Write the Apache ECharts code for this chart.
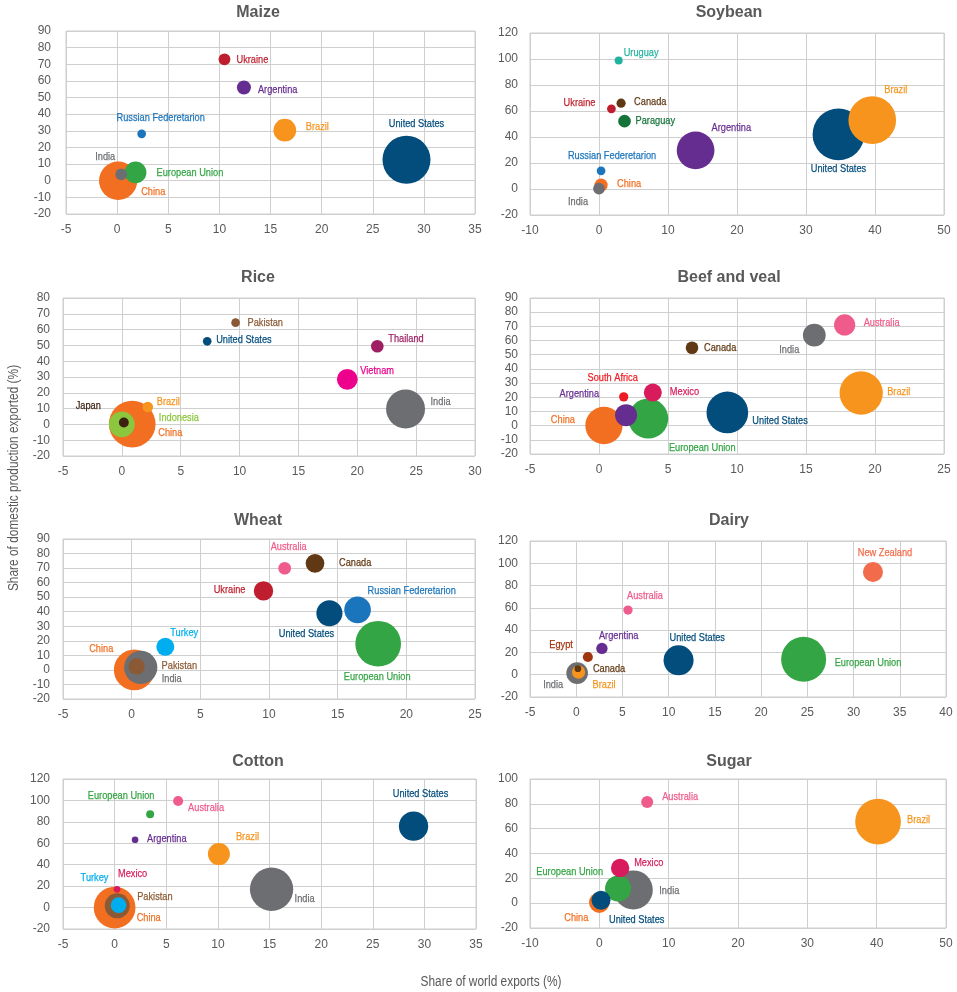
<!DOCTYPE html>
<html>
<head>
<meta charset="utf-8">
<script src="https://cdn.jsdelivr.net/npm/echarts@6/dist/echarts.min.js"></script>
<style>
  html, body { margin: 0; padding: 0; background: #ffffff; }
  #chart { width: 957px; height: 992px; }
</style>
</head>
<body>
<div id="chart"></div>
<script>
// Share of world exports (x, %), share of domestic production exported (y, %)
// and share of world production (bubble size, %) by commodity.

const maizeCountries  = ['United States', 'China', 'Brazil', 'European Union', 'Argentina', 'Ukraine', 'India', 'Russian Federetarion'];
const maizeExport     = [28.3, 0.1, 16.4, 1.8, 12.4, 10.5, 0.4, 2.4];
const maizeDomestic   = [12.6, 0, 30.4, 5, 56, 73, 3.8, 28.2];
const maizeProduction = [35, 22.3, 7.8, 7.2, 3.0, 2.1, 2.1, 1.15];

const soyCountries  = ['United States', 'Brazil', 'Argentina', 'China', 'Paraguay', 'India', 'Canada', 'Ukraine', 'Russian Federetarion', 'Uruguay'];
const soyExport     = [34.7, 39.6, 14.0, 0.3, 3.7, 0, 3.2, 1.8, 0.3, 2.85];
const soyDomestic   = [42, 53, 29.7, 3, 52.2, 0.3, 66, 61.7, 14, 98.8];
const soyProduction = [35, 29.8, 18.6, 2.3, 2.1, 1.8, 1.1, 1.0, 1.0, 0.84];

const riceCountries  = ['China', 'India', 'Indonesia', 'Vietnam', 'Thailand', 'Brazil', 'Japan', 'Pakistan', 'United States'];
const riceExport     = [0.88, 24.1, 0, 19.15, 21.7, 2.2, 0.17, 9.66, 7.25];
const riceDomestic   = [0.2, 9.8, 0, 28.5, 49.5, 11, 1.2, 64.4, 52.6];
const riceProduction = [29, 20.2, 8.8, 5.7, 2.1, 1.5, 1.3, 1.0, 1.0];

const beefCountries  = ['Brazil', 'United States', 'European Union', 'China', 'India', 'Argentina', 'Australia', 'Mexico', 'Canada', 'South Africa'];
const beefExport     = [19.0, 9.3, 3.57, 0.36, 15.6, 1.96, 17.8, 3.9, 6.74, 1.79];
const beefDomestic   = [23, 9.3, 5, 0.1, 63.8, 7.4, 71, 23.3, 54.9, 20.3];
const beefProduction = [19.95, 18.5, 17.0, 14.8, 5.5, 5.15, 4.8, 3.45, 1.7, 0.92];

const wheatCountries  = ['European Union', 'China', 'India', 'Russian Federetarion', 'United States', 'Ukraine', 'Canada', 'Turkey', 'Pakistan', 'Australia'];
const wheatExport     = [17.95, 0.19, 0.66, 16.45, 14.4, 9.6, 13.35, 2.45, 0.36, 11.14];
const wheatDomestic   = [18, 0, 1.7, 41.3, 39, 54.3, 73.3, 15.9, 2.4, 69.9];
const wheatProduction = [20, 15.9, 10.6, 6.8, 6.5, 3.6, 3.35, 3.1, 2.55, 1.55];

const dairyCountries  = ['European Union', 'United States', 'India', 'New Zealand', 'Brazil', 'Argentina', 'Egypt', 'Australia', 'Canada'];
const dairyExport     = [24.6, 11.07, 0.1, 32.1, 0.25, 2.78, 1.26, 5.6, 0.18];
const dairyDomestic   = [13.8, 12.9, 1.5, 92.2, 2.4, 23.6, 15.9, 58, 5.4];
const dairyProduction = [22, 9.8, 5.1, 4.35, 1.9, 1.4, 1.1, 0.94, 0.49];

const cottonCountries  = ['India', 'China', 'United States', 'Pakistan', 'Brazil', 'Turkey', 'Australia', 'European Union', 'Mexico', 'Argentina'];
const cottonExport     = [15.2, 0, 28.95, 0.25, 10.1, 0.38, 6.15, 3.44, 0.23, 1.98];
const cottonDomestic   = [17.1, 0, 76, 1.6, 49.9, 2.2, 99.5, 87, 17.1, 63.3];
const cottonProduction = [24, 22.3, 11, 8, 6.2, 3.15, 1.3, 0.82, 0.57, 0.57];

const sugarCountries  = ['Brazil', 'India', 'European Union', 'China', 'United States', 'Mexico', 'Australia'];
const sugarExport     = [40.2, 4.9, 2.7, 0, 0.24, 3.0, 6.9];
const sugarDomestic   = [65.6, 10.7, 11.8, 0.5, 2.3, 28.4, 81.4];
const sugarProduction = [21, 15.3, 6.8, 4.3, 3.6, 3.4, 1.45];

const axisTitleX = 'Share of world exports (%)';
const axisTitleY = 'Share of domestic production exported (%)';

// ---- styling ---------------------------------------------------------------

const countryColor = {
  'United States': '#034d7d',
  'Brazil': '#f7941d',
  'China': '#f26f22',
  'India': '#6d6e71',
  'European Union': '#34a544',
  'Argentina': '#662d91',
  'Ukraine': '#be1e2d',
  'Russian Federetarion': '#1b75bc',
  'Uruguay': '#22b2a0',
  'Canada': '#603813',
  'Paraguay': '#16743a',
  'Pakistan': '#8b5a35',
  'Thailand': '#9e1f63',
  'Vietnam': '#ec008c',
  'Japan': '#3b1f10',
  'Indonesia': '#8cc63f',
  'Australia': '#ef5b8a',
  'South Africa': '#ed1c24',
  'Mexico': '#d71b5c',
  'Turkey': '#00aeef',
  'New Zealand': '#f26b4a',
  'Egypt': '#a1350f'
};

const TEXT = '#595959';
const GRID_LINE = '#cfcfcf';
const SANS = "'Liberation Sans', Arial, sans-serif";
const LABEL_FONT = '11.7px ' + SANS;
const LABEL_SQUEEZE = 0.79;     // condensed look for the country labels
const AXIS_NAME_FONT = '14px ' + SANS;
const AXIS_NAME_SQUEEZE = 0.85;

// label anchor offsets from each bubble centre: [dx, dy, align]
const labelPlacement = {
  Maize: {
    'Ukraine': [12, 0, 'left'], 'Argentina': [14, 2, 'left'], 'Russian Federetarion': [19, -16, 'center'],
    'Brazil': [21, -3, 'left'], 'United States': [10, -36, 'center'], 'India': [-16, -18, 'center'],
    'European Union': [21, 0, 'left'], 'China': [23, 11, 'left']
  },
  Soybean: {
    'Uruguay': [5, -8, 'left'], 'Canada': [13, -1, 'left'], 'Ukraine': [-16, -6, 'right'],
    'Paraguay': [11, 0, 'left'], 'Argentina': [16, -23, 'left'], 'United States': [0, 34, 'center'],
    'Brazil': [12, -30, 'left'], 'Russian Federetarion': [11, -15, 'center'], 'China': [16, -1, 'left'],
    'India': [-21, 13, 'center']
  },
  Rice: {
    'Pakistan': [12, 0, 'left'], 'United States': [9, -2, 'left'], 'Thailand': [11, -7, 'left'],
    'Vietnam': [13, -9, 'left'], 'India': [25, -7, 'left'], 'Brazil': [9, -5, 'left'],
    'Indonesia': [37, -7, 'left'], 'China': [26, 9, 'left'], 'Japan': [-23, -17, 'right']
  },
  'Beef and veal': {
    'Australia': [19, -2, 'left'], 'India': [-25, 15, 'center'], 'Canada': [12, 0, 'left'],
    'South Africa': [-11, -19, 'center'], 'Mexico': [17, -1, 'left'], 'Argentina': [-27, -21, 'right'],
    'European Union': [54, 29, 'center'], 'China': [-29, -6, 'right'], 'United States': [25, 8, 'left'],
    'Brazil': [26, -1, 'left']
  },
  Wheat: {
    'Australia': [4, -21, 'center'], 'Canada': [24, -1, 'left'], 'Ukraine': [-18, -1, 'right'],
    'Russian Federetarion': [10, -19, 'left'], 'United States': [-23, 21, 'center'],
    'European Union': [-1, 33, 'center'], 'Turkey': [5, -14, 'left'], 'China': [-21, -21, 'right'],
    'Pakistan': [25, -1, 'left'], 'India': [21, 11, 'left']
  },
  Dairy: {
    'New Zealand': [12, -19, 'center'], 'Australia': [-1, -14, 'left'], 'Argentina': [-3, -13, 'left'],
    'Egypt': [-15, -12, 'right'], 'United States': [-9, -23, 'left'], 'European Union': [31, 3, 'left'],
    'Canada': [15, 0, 'left'], 'India': [-14, 12, 'right'], 'Brazil': [14, 13, 'left']
  },
  Cotton: {
    'European Union': [-29, -19, 'center'], 'Australia': [10, 7, 'left'], 'Argentina': [12, -1, 'left'],
    'Brazil': [17, -17, 'left'], 'United States': [7, -32, 'center'], 'India': [23, 10, 'left'],
    'Mexico': [1, -15, 'left'], 'Turkey': [-24, -27, 'center'], 'Pakistan': [20, -9, 'left'],
    'China': [22, 10, 'left']
  },
  Sugar: {
    'Australia': [15, -5, 'left'], 'Brazil': [29, -2, 'left'], 'Mexico': [14, -5, 'left'],
    'European Union': [-15, -17, 'right'], 'India': [26, 1, 'left'], 'China': [-11, 15, 'right'],
    'United States': [8, 19, 'left']
  }
};

// panel geometry and axis scales
const panels = [
  { title: 'Maize', names: maizeCountries, xs: maizeExport, ys: maizeDomestic, sizes: maizeProduction,
    grid: [66, 31, 409, 183], titleAt: [258, 13], x: [-5, 35, 5], y: [-20, 90, 10], maxBubble: 48, yMargin: 15 },
  { title: 'Soybean', names: soyCountries, xs: soyExport, ys: soyDomestic, sizes: soyProduction,
    grid: [530, 33, 414, 182], titleAt: [729, 13], x: [-10, 50, 10], y: [-20, 120, 20], maxBubble: 51.7, yMargin: 12 },
  { title: 'Rice', names: riceCountries, xs: riceExport, ys: riceDomestic, sizes: riceProduction,
    grid: [63, 298, 412, 158], titleAt: [258, 278], x: [-5, 30, 5], y: [-20, 80, 10], maxBubble: 46.7, yMargin: 13 },
  { title: 'Beef and veal', names: beefCountries, xs: beefExport, ys: beefDomestic, sizes: beefProduction,
    grid: [530, 298, 414, 156], titleAt: [729, 278], x: [-5, 25, 5], y: [-20, 90, 10], maxBubble: 43.3, yMargin: 12 },
  { title: 'Wheat', names: wheatCountries, xs: wheatExport, ys: wheatDomestic, sizes: wheatProduction,
    grid: [63, 539, 412, 160], titleAt: [258, 521], x: [-5, 25, 5], y: [-20, 90, 10], maxBubble: 45.7, yMargin: 13 },
  { title: 'Dairy', names: dairyCountries, xs: dairyExport, ys: dairyDomestic, sizes: dairyProduction,
    grid: [530, 541, 416, 156], titleAt: [729, 521], x: [-5, 40, 5], y: [-20, 120, 20], maxBubble: 45, yMargin: 12 },
  { title: 'Cotton', names: cottonCountries, xs: cottonExport, ys: cottonDomestic, sizes: cottonProduction,
    grid: [63, 779, 413, 150], titleAt: [258, 762], x: [-5, 35, 5], y: [-20, 120, 20], maxBubble: 43.3, yMargin: 13 },
  { title: 'Sugar', names: sugarCountries, xs: sugarExport, ys: sugarDomestic, sizes: sugarProduction,
    grid: [530, 779, 416, 149], titleAt: [729, 762], x: [-10, 50, 10], y: [-20, 100, 20], maxBubble: 45.7, yMargin: 12 }
];

// ---- option ----------------------------------------------------------------

const grids = [], xAxes = [], yAxes = [], series = [], graphics = [];

panels.forEach((p, i) => {
  const [left, top, width, height] = p.grid;
  grids.push({ left, top, width, height, show: true, borderColor: GRID_LINE, borderWidth: 1, backgroundColor: 'transparent' });

  const axisCommon = {
    axisLine: { show: false },
    axisTick: { show: false },
    splitLine: { show: true, lineStyle: { color: GRID_LINE, width: 1 } },
    axisLabel: { color: TEXT, fontSize: 12, fontFamily: SANS }
  };
  xAxes.push(Object.assign({}, axisCommon, {
    type: 'value', gridIndex: i, min: p.x[0], max: p.x[1], interval: p.x[2],
    axisLabel: Object.assign({}, axisCommon.axisLabel, { margin: 10 })
  }));
  yAxes.push(Object.assign({}, axisCommon, {
    type: 'value', gridIndex: i, min: p.y[0], max: p.y[1], interval: p.y[2],
    axisLabel: Object.assign({}, axisCommon.axisLabel, { margin: p.yMargin })
  }));

  const maxSize = Math.max.apply(null, p.sizes);
  const place = labelPlacement[p.title];
  const items = p.names.map((name, k) => ({
    name,
    value: [p.xs[k], p.ys[k], p.sizes[k]],
    itemStyle: { color: countryColor[name], opacity: 1 }
  }));
  // larger bubbles first so smaller ones stay visible on top
  items.sort((a, b) => b.value[2] - a.value[2]);

  series.push({
    type: 'scatter', xAxisIndex: i, yAxisIndex: i, data: items,
    symbol: 'circle', clip: false,
    symbolSize: v => p.maxBubble * Math.sqrt(v[2] / maxSize),
    emphasis: { disabled: true }
  });

  // country names, placed next to their bubbles through the axis scales
  const labelItems = p.names.map((name, k) => ({ name, value: [p.xs[k], p.ys[k]] }));
  series.push({
    type: 'custom', xAxisIndex: i, yAxisIndex: i, data: labelItems, clip: false, z: 5,
    silent: true,
    renderItem: (params, api) => {
      const name = labelItems[params.dataIndex].name;
      const [dx, dy, align] = place[name] || [10, 0, 'left'];
      const pt = api.coord([api.value(0), api.value(1)]);
      const color = countryColor[name];
      return {
        type: 'text',
        x: pt[0] + dx, y: pt[1] + dy,
        scaleX: LABEL_SQUEEZE,
        style: {
          text: name, fill: color, font: LABEL_FONT,
          stroke: color, lineWidth: 0.25,
          align, verticalAlign: 'middle'
        }
      };
    }
  });

  graphics.push({
    type: 'text', x: p.titleAt[0], y: p.titleAt[1],
    style: { text: p.title, fill: TEXT, font: 'bold 16px ' + SANS, align: 'center', verticalAlign: 'middle' }
  });
});

graphics.push({
  type: 'text', x: 491, y: 982, scaleX: AXIS_NAME_SQUEEZE,
  style: { text: axisTitleX, fill: TEXT, font: AXIS_NAME_FONT, align: 'center', verticalAlign: 'middle' }
});
graphics.push({
  type: 'text', x: 14, y: 478, rotation: Math.PI / 2, scaleX: AXIS_NAME_SQUEEZE,
  style: { text: axisTitleY, fill: TEXT, font: AXIS_NAME_FONT, align: 'center', verticalAlign: 'middle' }
});

const chart = echarts.init(document.getElementById('chart'), null, { renderer: 'canvas' });
chart.setOption({
  animation: false,
  backgroundColor: '#ffffff',
  grid: grids,
  xAxis: xAxes,
  yAxis: yAxes,
  series,
  graphic: graphics
});
</script>
</body>
</html>
